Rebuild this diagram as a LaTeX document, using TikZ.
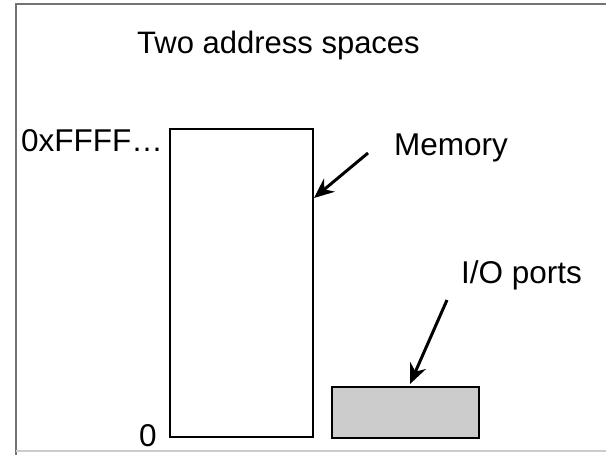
\documentclass[tikz,border=0pt]{standalone}
\usepackage{fontspec}
\setmainfont{Liberation Sans}
\usetikzlibrary{arrows.meta}
\begin{document}
\begin{tikzpicture}[x=1pt,y=-1pt,
  lbl/.style={anchor=base west,inner sep=0pt,font=\fontsize{31.5}{36}\selectfont},
  ttl/.style={anchor=base west,inner sep=0pt,font=\fontsize{31}{36}\selectfont},
  box/.style={draw=black,line width=2.6pt},
  ptr/.style={line width=3pt,-{Stealth[length=20pt,width=17pt]}}]
\useasboundingbox (0,0) rectangle (606,455);
\fill[white] (0,0) rectangle (606,455);
% frame
\draw[gray!90!black,line width=2pt] (16,455) -- (16,4) -- (606,4);
\draw[gray!40,line width=1.5pt] (16,451) -- (606,451);
% title
\node[ttl] (title) at (137,53) {Two address spaces};
% memory
\draw[box] (170,129) rectangle (313,437);
\coordinate (memR) at (314,198);
\node[lbl] (ffff) at (21,151) {0xFFFF…};
\node[lbl] (zero) at (139,446) {0};
\node[lbl] (memlbl) at (394,155) {Memory};
\coordinate (memA) at (368,153);
\draw[ptr] (memA) -- (memR);
% io
\draw[box,fill=black!20] (332,387) rectangle (479,438);
\coordinate (ioT) at (410,384);
\node[lbl] (iolbl) at (461,283) {I/O ports};
\coordinate (ioA) at (447,300);
\draw[ptr] (ioA) -- (ioT);
\end{tikzpicture}
\end{document}
